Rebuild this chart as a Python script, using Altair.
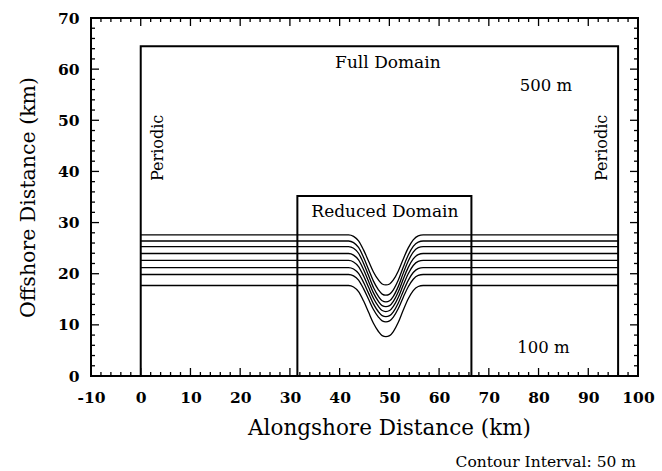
import altair as alt
import pandas as pd

# ---- axis ticks / labels ----
x_major = [-10, 0, 10, 20, 30, 40, 50, 60, 70, 80, 90, 100]
y_major = [0, 10, 20, 30, 40, 50, 60, 70]
x_minor = [v for v in range(-10, 101, 2) if v % 10 != 0]
y_minor = [v for v in range(0, 71, 2) if v % 10 != 0]

# ---- domain boxes (km) ----
box_name = ["Full Domain", "Reduced Domain"]
box_x0 = [0, 31.5]
box_x1 = [96, 66.5]
box_y0 = [0, 0]
box_y1 = [64.5, 35.2]

# ---- contours (km): offshore position far from the canyon, and at its deepest point ----
contour_base = [27.6, 26.4, 25.3, 23.95, 22.6, 21.2, 19.85, 17.7]
contour_min = [17.8, 15.8, 14.5, 13.55, 12.6, 11.6, 10.6, 7.7]
line_start = 0
line_end = 96
dip_center = 49.3
dip_dx = [-7.5, -6.5, -5.5, -4.5, -3.5, -2.5, -1.5, -0.75, 0, 0.75, 1.5, 2.5, 3.5, 4.5, 5.5, 6.5, 7.5]
dip_frac = [0, 0.03, 0.12, 0.3, 0.52, 0.74, 0.9, 0.98, 1, 0.98, 0.9, 0.72, 0.48, 0.26, 0.1, 0.02, 0]

# ---- labels ----
lab_text = ["Full Domain", "Reduced Domain", "500 m", "100 m"]
lab_x = [49.7, 49.1, 81.5, 81.0]
lab_y = [61.2, 32.1, 56.7, 5.5]
lab_size = [17, 17, 16.5, 16.5]
per_x = [3.5, 92.8]
per_y = [44.6, 44.6]

W, H = 547, 358
FONT = "DejaVu Serif"
XD = [-10, 100]
YD = [0, 70]

rows = []
for i, (b, m) in enumerate(zip(contour_base, contour_min)):
    pts = [(line_start, b)]
    for dx, f in zip(dip_dx, dip_frac):
        pts.append((dip_center + dx, b - (b - m) * f))
    pts.append((line_end, b))
    for k, (x, y) in enumerate(pts):
        rows.append({"line": i, "k": k, "x": x, "y": y})
contours = pd.DataFrame(rows)

boxes = pd.DataFrame({"name": box_name, "x0": box_x0, "x1": box_x1, "y0": box_y0, "y1": box_y1})
labels = pd.DataFrame({"t": lab_text, "x": lab_x, "y": lab_y, "s": lab_size})
periodic = pd.DataFrame({"x": per_x, "y": per_y, "t": ["Periodic", "Periodic"]})

xs = alt.Scale(domain=XD, nice=False, zero=False)
ys = alt.Scale(domain=YD, nice=False, zero=False)

x_axis = alt.Axis(values=x_major, ticks=False, tickSize=0, domain=False, grid=False,
                  labelExpr="'' + datum.value",
                  labelFont=FONT, labelFontSize=15.5, labelFontWeight="bold", labelColor="black",
                  labelPadding=14, labelFlush=False, labelOverlap=False,
                  title="Alongshore Distance (km)", titleFont=FONT, titleFontSize=21.5,
                  titleFontWeight="normal", titleColor="black", titlePadding=12, titleX=298)
y_axis = alt.Axis(values=y_major, ticks=False, tickSize=0, domain=False, grid=False,
                  labelExpr="'' + datum.value",
                  labelFont=FONT, labelFontSize=15.5, labelFontWeight="bold", labelColor="black",
                  labelPadding=12, labelFlush=False, labelOverlap=False,
                  title="Offshore Distance (km)", titleFont=FONT, titleFontSize=20.5,
                  titleFontWeight="normal", titleColor="black", titlePadding=19)


def X(f):
    return alt.X(f, scale=xs, axis=x_axis)


def Y(f):
    return alt.Y(f, scale=ys, axis=y_axis)


box_layer = alt.Chart(boxes).mark_rect(fillOpacity=0, stroke="black", strokeWidth=2).encode(
    x=X("x0:Q"), x2="x1:Q", y=Y("y0:Q"), y2="y1:Q",
)

contour_layer = alt.Chart(contours).mark_line(color="black", strokeWidth=1.3, interpolate="monotone").encode(
    x=X("x:Q"), y=Y("y:Q"), detail="line:N", order="k:Q",
)

text_layer = alt.Chart(labels).mark_text(font=FONT, color="black", align="center", baseline="middle").encode(
    x=X("x:Q"), y=Y("y:Q"), text="t:N",
    size=alt.Size("s:Q", scale=None, legend=None),
)

per_layer = alt.Chart(periodic).mark_text(font=FONT, fontSize=16, color="black", angle=270,
                                         align="center", baseline="middle").encode(
    x=X("x:Q"), y=Y("y:Q"), text="t:N",
)


def xticks(vals, length, top):
    df = pd.DataFrame({"v": vals})
    if top:
        yv, y2v = 0, length
    else:
        yv, y2v = H, H - length
    return alt.Chart(df).mark_rule(color="black", strokeWidth=1.3).encode(
        x=X("v:Q"), y=alt.value(yv), y2=alt.value(y2v))


def yticks(vals, length, right):
    df = pd.DataFrame({"v": vals})
    if right:
        xv, x2v = W, W - length
    else:
        xv, x2v = 0, length
    return alt.Chart(df).mark_rule(color="black", strokeWidth=1.3).encode(
        y=Y("v:Q"), x=alt.value(xv), x2=alt.value(x2v))


tick_layers = [
    xticks(x_major, 8, False), xticks(x_minor, 4, False),
    xticks(x_major, 8, True), xticks(x_minor, 4, True),
    yticks(y_major, 8, False), yticks(y_minor, 4, False),
    yticks(y_major, 8, True), yticks(y_minor, 4, True),
]

note = alt.Chart(pd.DataFrame({"t": ["Contour Interval: 50 m"]})).mark_text(
    font=FONT, fontSize=15.5, color="black", align="right", baseline="middle").encode(
    x=alt.value(W - 2), y=alt.value(H + 86), text="t:N")

chart = alt.layer(box_layer, contour_layer, text_layer, per_layer, *tick_layers, note).properties(
    width=W, height=H,
    autosize=alt.AutoSizeParams(type="none"),
    padding={"left": 91, "top": 18, "right": 24, "bottom": 95},
    background="white",
).configure_view(stroke="black", strokeWidth=2)

chart.save("out.html", embed_options={"renderer": "svg", "actions": False})
